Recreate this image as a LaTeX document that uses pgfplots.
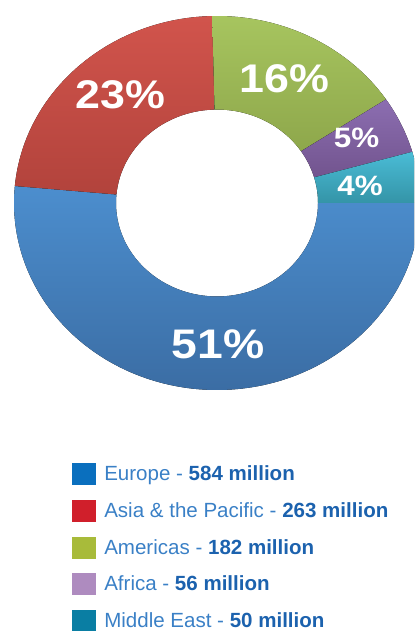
\documentclass[border=0pt]{standalone}
\usepackage{fontspec}
\setmainfont{Liberation Sans}
\usepackage{pgfplots}
\usepackage{pgfplotstable}
\pgfplotsset{compat=1.18}

% ring colours, top and bottom of the vertical shading
\definecolor{top0}{HTML}{4C8ECE}\definecolor{bot0}{HTML}{3B6DA4}
\definecolor{top1}{HTML}{D1544C}\definecolor{bot1}{HTML}{B2433C}
\definecolor{top2}{HTML}{A7C55F}\definecolor{bot2}{HTML}{8EA74B}
\definecolor{top3}{HTML}{8C6EB1}\definecolor{bot3}{HTML}{72548E}
\definecolor{top4}{HTML}{4ABCD6}\definecolor{bot4}{HTML}{3494A7}
% legend colours
\definecolor{leg0}{HTML}{0A6FBE}
\definecolor{leg1}{HTML}{D01F2B}
\definecolor{leg2}{HTML}{A8BB3A}
\definecolor{leg3}{HTML}{AE8BBF}
\definecolor{leg4}{HTML}{0A7EA3}
\definecolor{txtr}{HTML}{3A80C6}
\definecolor{txtb}{HTML}{1C62AE}

% value in millions, label, label size and label place (px from top left)
\pgfplotstableread{
region value pct fs lx ly
Europe 584 51 31 218 344
Asia 263 23 30 120.5 95
Americas 182 16 30 284.5 79
Africa 56 5 21 356.5 137.5
MiddleEast 50 4 21 360 186
}\regions

\begin{document}
\begin{tikzpicture}
\useasboundingbox (0,0) rectangle (310.5pt,473.25pt);

% angles from the values (clockwise from 3 o'clock)
\pgfmathsetmacro\total{0}
\pgfplotsforeachungrouped \i in {0,...,4}{%
  \pgfplotstablegetelem{\i}{value}\of\regions
  \pgfmathsetmacro\total{\total+\pgfplotsretval}}
\def\acc{0}
\pgfplotsforeachungrouped \i in {0,...,4}{%
  \pgfplotstablegetelem{\i}{value}\of\regions
  \pgfmathsetmacro\nxt{\acc-360*(\pgfplotsretval/\total)}%
  \expandafter\xdef\csname sa\i\endcsname{\acc}%
  \expandafter\xdef\csname ea\i\endcsname{\nxt}%
  \pgfplotstablegetelem{\i}{pct}\of\regions
  \expandafter\xdef\csname pc\i\endcsname{\pgfplotsretval}%
  \pgfplotstablegetelem{\i}{fs}\of\regions
  \expandafter\xdef\csname fs\i\endcsname{\pgfplotsretval}%
  \pgfplotstablegetelem{\i}{lx}\of\regions
  \expandafter\xdef\csname lx\i\endcsname{\pgfplotsretval}%
  \pgfplotstablegetelem{\i}{ly}\of\regions
  \pgfmathsetmacro\tmp{631-\pgfplotsretval}%
  \expandafter\xdef\csname ly\i\endcsname{\tmp}%
  \global\let\acc\nxt}

\begin{axis}[
    at={(0,0)}, anchor=origin,
    width=310.5pt, height=473.25pt, scale only axis,
    xmin=0, xmax=414, ymin=0, ymax=631,
    hide axis,
    legend image code/.code={\fill[#1, draw=none] (0pt,-8.25pt) rectangle (18pt,8.25pt);},
    legend cell align=left,
    legend style={at={(0.1739,0.2662)}, anchor=north west,
        draw=none, fill=none, inner sep=0pt,
        row sep=11pt, column sep=6pt,
        nodes={inner sep=0pt, text=txtr, font=\fontsize{15.4}{18}\selectfont}},
]
\coordinate (c) at (axis cs:217,428);
\pgfplotsinvokeforeach{0,...,4}{%
  \fill[top color=top#1, bottom color=bot#1]
    ([shift={(\csname sa#1\endcsname:152.25pt and 140.25pt)}]c)
    arc[start angle=\csname sa#1\endcsname, end angle=\csname ea#1\endcsname,
        x radius=152.25pt, y radius=140.25pt]
    -- ([shift={(\csname ea#1\endcsname:75.75pt and 70.1pt)}]c)
    arc[start angle=\csname ea#1\endcsname, end angle=\csname sa#1\endcsname,
        x radius=75.75pt, y radius=70.1pt]
    -- cycle;
  \node[text=white, xscale=1.12,
        font=\bfseries\fontsize{\csname fs#1\endcsname}{\csname fs#1\endcsname}\selectfont]
    at (axis cs:\csname lx#1\endcsname,\csname ly#1\endcsname) {\csname pc#1\endcsname\%};
}

\addlegendimage{fill=leg0}
\addlegendentry{Europe - \textbf{\color{txtb}584 million}}
\addlegendimage{fill=leg1}
\addlegendentry{Asia \& the Pacific - \textbf{\color{txtb}263 million}}
\addlegendimage{fill=leg2}
\addlegendentry{Americas - \textbf{\color{txtb}182 million}}
\addlegendimage{fill=leg3}
\addlegendentry{Africa - \textbf{\color{txtb}56 million}}
\addlegendimage{fill=leg4}
\addlegendentry{Middle East - \textbf{\color{txtb}50 million}}
\end{axis}
\end{tikzpicture}
\end{document}
